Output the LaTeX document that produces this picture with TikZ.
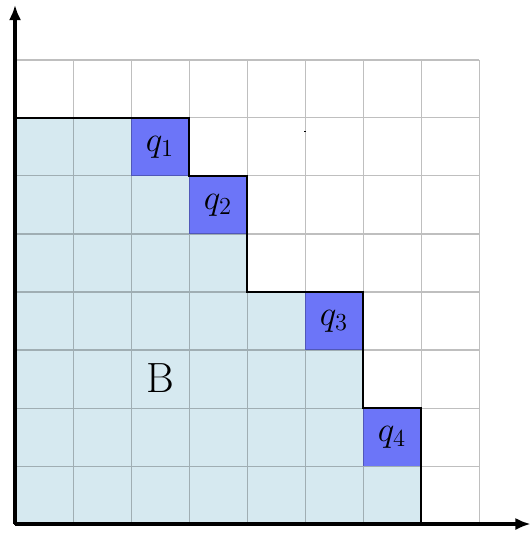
\documentclass[tikz,border=0pt]{standalone}
\usetikzlibrary{arrows.meta}
\definecolor{regionblue}{RGB}{214,233,240}
\definecolor{qblue}{RGB}{108,117,248}
\begin{document}
\begin{tikzpicture}[x=1cm,y=1cm,
  qcell/.style={fill=qblue, minimum size=1cm, inner sep=0pt, font=\LARGE},
  gridline/.style={draw=black, opacity=0.25, line width=0.5pt},
  boundary/.style={draw=black, line width=0.8pt},
  axis/.style={line width=1.5pt, -{Latex[length=7.5pt,width=6pt]}}]
\useasboundingbox (-0.259,-0.172) rectangle (8.897,9.034);
% region B
\fill[regionblue] (0,0) -- (0,7) -- (3,7) -- (3,6) -- (4,6) -- (4,4) -- (6,4) -- (6,2) -- (7,2) -- (7,0) -- cycle;
% q cells
\node[qcell] (q1) at (2.5,6.5) {$q_1$};
\node[qcell] (q2) at (3.5,5.5) {$q_2$};
\node[qcell] (q3) at (5.5,3.5) {$q_3$};
\node[qcell] (q4) at (6.5,1.5) {$q_4$};
% grid
\draw[gridline] (0,0) grid (8,8);
% staircase boundary
\draw[boundary] (0,0) -- (0,7) -- (3,7) -- (3,6) -- (4,6) -- (4,4) -- (6,4) -- (6,2) -- (7,2) -- (7,0) -- cycle;
% label
\node[font=\huge] (B) at (2.5,2.52) {B};
% stray dot
\fill[black] (4.99,6.75) rectangle (5.02,6.77);
% axes
\coordinate (O) at (0,0);
\coordinate (ytop) at (0,8.95);
\coordinate (xend) at (8.89,0);
\draw[axis] (O) -- (ytop);
\draw[axis] (O) -- (xend);
\end{tikzpicture}
\end{document}
